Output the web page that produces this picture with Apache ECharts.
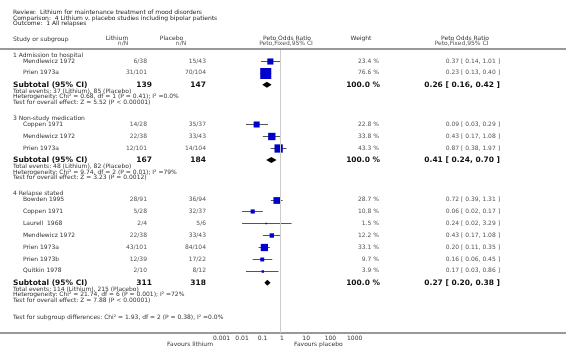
<!DOCTYPE html>
<html>
<head>
<meta charset="utf-8">
<script src="https://cdn.jsdelivr.net/npm/echarts@6/dist/echarts.min.js"></script>
<style>
  html, body { margin: 0; padding: 0; background: #fff; }
  #forest { width: 566px; height: 357px; }
</style>
</head>
<body>
<div id="forest"></div>
<script>
// studies
const studyNames = ["Mendlewicz 1972", "Prien 1973a", "Coppen 1971", "Mendlewicz 1972", "Prien 1973a",
  "Bowden 1995", "Coppen 1971", "Laurell  1968", "Mendlewicz 1972", "Prien 1973a", "Prien 1973b", "Quitkin 1978"];
const studyGroup = [0, 0, 1, 1, 1, 2, 2, 2, 2, 2, 2, 2];
const lithiumNN = ["6/38", "31/101", "14/28", "22/38", "12/101", "28/91", "5/28", "2/4", "22/38", "43/101", "12/39", "2/10"];
const placeboNN = ["15/43", "70/104", "35/37", "33/43", "14/104", "36/94", "32/37", "5/6", "33/43", "84/104", "17/22", "8/12"];
const weights = [23.4, 76.6, 22.8, 33.8, 43.3, 28.7, 10.8, 1.5, 12.2, 33.1, 9.7, 3.9];
const orValues = [0.37, 0.23, 0.09, 0.43, 0.87, 0.72, 0.06, 0.24, 0.43, 0.20, 0.16, 0.17];
const ciLow = [0.14, 0.13, 0.03, 0.17, 0.38, 0.39, 0.02, 0.02, 0.17, 0.11, 0.06, 0.03];
const ciHigh = [1.01, 0.40, 0.29, 1.08, 1.97, 1.31, 0.17, 3.29, 1.08, 0.35, 0.45, 0.86];

// subgroups
const groupNames = ["1 Admission to hospital", "3 Non-study medication", "4 Relapse stated"];
const subLithium = [139, 167, 311];
const subPlacebo = [147, 184, 318];
const subWeight = [100.0, 100.0, 100.0];
const subOr = [0.26, 0.41, 0.27];
const subLow = [0.16, 0.24, 0.20];
const subHigh = [0.42, 0.70, 0.38];
const subEvents = ["Total events: 37 (Lithium), 85 (Placebo)", "Total events: 48 (Lithium), 82 (Placebo)",
  "Total events: 114 (Lithium), 215 (Placebo)"];
const subHet = ["Heterogeneity: Chi² = 0.68, df = 1 (P = 0.41); I² =0.0%",
  "Heterogeneity: Chi² = 9.74, df = 2 (P = 0.01); I² =79%",
  "Heterogeneity: Chi² = 21.74, df = 6 (P = 0.001); I² =72%"];
const subTest = ["Test for overall effect: Z = 5.52 (P < 0.00001)", "Test for overall effect: Z = 3.23 (P = 0.0012)",
  "Test for overall effect: Z = 7.88 (P < 0.00001)"];
const subgroupDiff = "Test for subgroup differences: Chi² = 1.93, df = 2 (P = 0.38), I² =0.0%";

const titleLines = ["Review:  Lithium for maintenance treatment of mood disorders",
  "Comparison:  4 Lithium v. placebo studies including bipolar patients",
  "Outcome:  1 All relapses"];
const tickValues = [0.001, 0.01, 0.1, 1, 10, 100, 1000];
const tickLabels = ["0.001", "0.01", "0.1", "1", "10", "100", "1000"];

// row layout (pixels from top)
const studyY = [], subY = [], headY = [], evY = [], hetY = [], testY = [];
let y = 55;
groupNames.forEach((g, gi) => {
  headY[gi] = y;
  y += 6;
  studyGroup.forEach((sg, i) => {
    if (sg === gi) { studyY[i] = y; y += 11.9; }
  });
  subY[gi] = y;
  evY[gi] = y + 6.5;
  hetY[gi] = y + 12;
  testY[gi] = y + 17.5;
  y = testY[gi] + 16;
});
const diffY = testY[testY.length - 1] + 17;
const axisY = 333;

const FONT = '"DejaVu Sans", Verdana, sans-serif';
const texts = [];
function t(text, x, yy, opt) {
  opt = opt || {};
  texts.push({
    type: "text", silent: true,
    style: {
      text: text, x: x, y: yy,
      fontSize: opt.size || 6, fontFamily: FONT, fontWeight: opt.bold ? "bold" : "normal",
      fill: opt.color || "#333", align: opt.align || "left", verticalAlign: "middle"
    }
  });
}
const fmtCI = (o, l, h) => o.toFixed(2) + " [ " + l.toFixed(2) + ", " + h.toFixed(2) + " ]";

titleLines.forEach((s, i) => t(s, 13, 12.5 + i * 5.6, { color: "#222" }));
t("Study or subgroup", 13, 39);
t("Lithium", 117, 38, { align: "center" });
t("n/N", 123, 43.5, { align: "center", color: "#555" });
t("Placebo", 171.5, 38, { align: "center" });
t("n/N", 181, 43.5, { align: "center", color: "#555" });
t("Peto Odds Ratio", 287, 38, { align: "center" });
t("Peto,Fixed,95% CI", 286, 43.5, { align: "center", color: "#555" });
t("Weight", 361, 38, { align: "center" });
t("Peto Odds Ratio", 465, 38, { align: "center" });
t("Peto,Fixed,95% CI", 461.5, 43.5, { align: "center", color: "#555" });

studyNames.forEach((n, i) => {
  t(n, 23, studyY[i]);
  t(lithiumNN[i], 147, studyY[i], { align: "right", color: "#555" });
  t(placeboNN[i], 206, studyY[i], { align: "right", color: "#555" });
  t(weights[i].toFixed(1) + " %", 379, studyY[i], { align: "right", color: "#555" });
  t(fmtCI(orValues[i], ciLow[i], ciHigh[i]), 500, studyY[i], { align: "right", color: "#555" });
});
groupNames.forEach((g, gi) => {
  t(g, 13, headY[gi]);
  t("Subtotal (95% CI)", 13, subY[gi], { bold: true, size: 7.5, color: "#111" });
  t(String(subLithium[gi]), 152, subY[gi], { bold: true, size: 7.5, align: "right", color: "#111" });
  t(String(subPlacebo[gi]), 206, subY[gi], { bold: true, size: 7.5, align: "right", color: "#111" });
  t(subWeight[gi].toFixed(1) + " %", 380, subY[gi], { bold: true, size: 7.5, align: "right", color: "#111" });
  t(fmtCI(subOr[gi], subLow[gi], subHigh[gi]), 500, subY[gi], { bold: true, size: 7.5, align: "right", color: "#111" });
  t(subEvents[gi], 13, evY[gi]);
  t(subHet[gi], 13, hetY[gi]);
  t(subTest[gi], 13, testY[gi]);
});
t(subgroupDiff, 13, diffY);
t("Favours lithium", 213, 344, { align: "right" });
t("Favours placebo", 294, 344);

const chart = echarts.init(document.getElementById("forest"));
chart.setOption({
  animation: false,
  grid: { left: 213, width: 134, top: 0, height: axisY },
  xAxis: {
    type: "log", logBase: 10, min: 0.001, max: 1000,
    axisLine: { show: false },
    axisTick: { inside: true, length: 3, lineStyle: { color: "#444" } },
    axisLabel: {
      fontSize: 6, fontFamily: FONT, color: "#333", align: "left", margin: 2,
      formatter: v => {
        const k = tickValues.findIndex(tv => Math.abs(Math.log10(tv) - Math.log10(v)) < 1e-6);
        return k >= 0 ? tickLabels[k] : "";
      }
    },
    splitLine: { show: false }
  },
  yAxis: { type: "value", min: 0, max: axisY, inverse: true, show: false },
  graphic: [
    { type: "line", silent: true, shape: { x1: 0, y1: 49, x2: 566, y2: 49 }, style: { stroke: "#999", lineWidth: 2 } },
    { type: "line", silent: true, shape: { x1: 0, y1: axisY, x2: 566, y2: axisY }, style: { stroke: "#999", lineWidth: 2 }, z: -1 }
  ].concat(texts),
  series: [
    {
      type: "custom",
      data: studyNames.map((_, i) => [orValues[i], studyY[i], ciLow[i], ciHigh[i], weights[i]]),
      renderItem: (params, api) => {
        const c = api.coord([api.value(0), api.value(1)]);
        const l = api.coord([api.value(2), api.value(1)]);
        const h = api.coord([api.value(3), api.value(1)]);
        const s = 1.26 * Math.sqrt(api.value(4));
        const yy = Math.round(c[1]) + 0.5;
        return {
          type: "group", children: [
            { type: "line", shape: { x1: l[0], y1: yy, x2: h[0], y2: yy }, style: { stroke: "#555", lineWidth: 1 } },
            { type: "rect", shape: { x: c[0] - s / 2, y: yy - s / 2, width: s, height: s }, style: { fill: "#0000cc" } }
          ]
        };
      },
      markLine: {
        silent: true, symbol: "none", label: { show: false },
        lineStyle: { color: "#cccccc", width: 1, type: "solid" },
        data: [[{ coord: [1, 50] }, { coord: [1, axisY] }]]
      },
      z: 3
    },
    {
      type: "custom",
      data: groupNames.map((_, gi) => [subOr[gi], subY[gi], subLow[gi], subHigh[gi]]),
      renderItem: (params, api) => {
        const c = api.coord([api.value(0), api.value(1)]);
        const l = api.coord([api.value(2), api.value(1)]);
        const h = api.coord([api.value(3), api.value(1)]);
        return {
          type: "polygon",
          shape: { points: [[l[0], c[1]], [c[0], c[1] - 3], [h[0], c[1]], [c[0], c[1] + 3]] },
          style: { fill: "#000" }
        };
      },
      z: 3
    }
  ]
});
</script>
</body>
</html>
